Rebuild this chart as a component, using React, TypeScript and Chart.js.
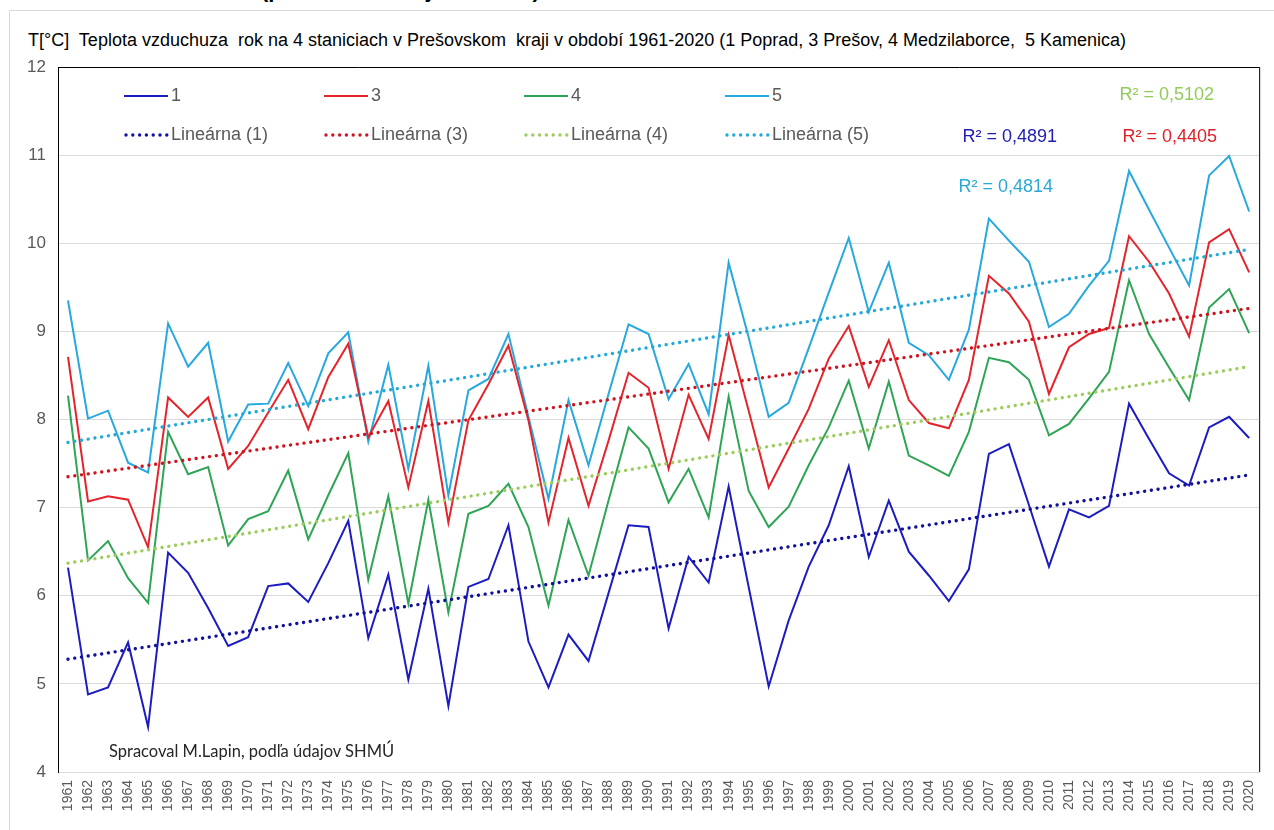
import React, { useEffect, useRef } from "react";
import { Chart, registerables } from "chart.js";

Chart.register(...registerables);

const years: string[] = [
  "1961", "1962", "1963", "1964", "1965", "1966", "1967", "1968", "1969", "1970",
  "1971", "1972", "1973", "1974", "1975", "1976", "1977", "1978", "1979", "1980",
  "1981", "1982", "1983", "1984", "1985", "1986", "1987", "1988", "1989", "1990",
  "1991", "1992", "1993", "1994", "1995", "1996", "1997", "1998", "1999", "2000",
  "2001", "2002", "2003", "2004", "2005", "2006", "2007", "2008", "2009", "2010",
  "2011", "2012", "2013", "2014", "2015", "2016", "2017", "2018", "2019", "2020",
];

// 1 Poprad
const poprad: number[] = [
  6.32, 4.88, 4.96, 5.47, 4.51, 6.49, 6.26, 5.86, 5.43, 5.53,
  6.11, 6.14, 5.93, 6.37, 6.85, 5.52, 6.24, 5.05, 6.08, 4.75,
  6.10, 6.19, 6.80, 5.48, 4.96, 5.56, 5.26, 6.03, 6.80, 6.78,
  5.63, 6.44, 6.15, 7.24, 6.10, 4.97, 5.72, 6.33, 6.80, 7.47,
  6.44, 7.08, 6.50, 6.23, 5.94, 6.30, 7.61, 7.72, 7.03, 6.33,
  6.98, 6.89, 7.02, 8.18, 7.78, 7.39, 7.25, 7.91, 8.03, 7.79,
];

// 3 Prešov
const presov: number[] = [
  8.71, 7.07, 7.13, 7.09, 6.55, 8.25, 8.03, 8.25, 7.44, 7.70,
  8.08, 8.45, 7.89, 8.48, 8.86, 7.80, 8.21, 7.23, 8.21, 6.83,
  7.99, 8.40, 8.84, 7.99, 6.83, 7.79, 7.02, 7.76, 8.53, 8.36,
  7.44, 8.28, 7.78, 8.96, 8.10, 7.23, 7.67, 8.12, 8.69, 9.06,
  8.37, 8.90, 8.22, 7.96, 7.90, 8.45, 9.63, 9.43, 9.11, 8.29,
  8.82, 8.97, 9.04, 10.08, 9.79, 9.43, 8.94, 10.01, 10.16, 9.67,
];

// 4 Medzilaborce
const medzilaborce: number[] = [
  8.27, 6.40, 6.62, 6.20, 5.92, 7.86, 7.38, 7.46, 6.57, 6.87,
  6.96, 7.42, 6.64, 7.14, 7.62, 6.18, 7.13, 5.91, 7.09, 5.81,
  6.93, 7.02, 7.27, 6.78, 5.89, 6.86, 6.23, 7.08, 7.91, 7.67,
  7.06, 7.44, 6.89, 8.26, 7.19, 6.78, 7.01, 7.48, 7.91, 8.44,
  7.67, 8.43, 7.59, 7.48, 7.36, 7.86, 8.70, 8.65, 8.45, 7.82,
  7.95, 8.24, 8.54, 9.58, 8.97, 8.59, 8.22, 9.27, 9.48, 8.98,
];

// 5 Kamenica
const kamenica: number[] = [
  9.35, 8.01, 8.10, 7.51, 7.40, 9.09, 8.60, 8.87, 7.75, 8.17,
  8.18, 8.64, 8.15, 8.75, 8.99, 7.75, 8.62, 7.44, 8.61, 7.14,
  8.33, 8.46, 8.97, 8.03, 7.10, 8.22, 7.48, 8.29, 9.08, 8.97,
  8.23, 8.63, 8.06, 9.78, 8.93, 8.03, 8.19, 8.81, 9.44, 10.06,
  9.22, 9.78, 8.87, 8.73, 8.45, 9.02, 10.28, 10.03, 9.79, 9.05,
  9.20, 9.52, 9.80, 10.82, 10.38, 9.95, 9.52, 10.77, 10.99, 10.36,
];

// linear trend end values (1961, 2020) for series 1, 3, 4, 5
const trendStart: number[] = [5.28, 7.35, 6.37, 7.74];
const trendEnd: number[] = [7.37, 9.26, 8.60, 9.93];

const seriesNames: string[] = ["1", "3", "4", "5"];
const trendNames: string[] = ["Lineárna (1)", "Lineárna (3)", "Lineárna (4)", "Lineárna (5)"];
const r2Labels: string[] = ["R² = 0,4891", "R² = 0,4405", "R² = 0,5102", "R² = 0,4814"];

const yTicks: number[] = [4, 5, 6, 7, 8, 9, 10, 11, 12];

const lineColors = ["#1c1cc2", "#e5232b", "#2ea455", "#27a8de"];
const trendColors = ["#10109c", "#d0141f", "#9ccc5c", "#22a9d8"];

const FONT = "'Liberation Sans', Arial, sans-serif";

const decorPlugin = {
  id: "decor",
  afterDraw(chart: any) {
    const ctx = chart.ctx as CanvasRenderingContext2D;
    const a = chart.chartArea;
    ctx.save();
    // plot frame (top, right)
    ctx.strokeStyle = "#000";
    ctx.lineWidth = 1;
    ctx.beginPath();
    ctx.moveTo(a.left, a.top + 0.5);
    ctx.lineTo(a.right + 0.5, a.top + 0.5);
    ctx.lineTo(a.right + 0.5, a.bottom);
    ctx.stroke();

    // legend
    const colX = [124, 324, 524, 725];
    const rowY = [96, 135];
    ctx.font = `18px ${FONT}`;
    ctx.textBaseline = "middle";
    ctx.textAlign = "left";
    for (let i = 0; i < 4; i++) {
      const x = colX[i];
      ctx.strokeStyle = lineColors[i];
      ctx.lineWidth = 2;
      ctx.beginPath();
      ctx.moveTo(x, rowY[0]);
      ctx.lineTo(x + 44, rowY[0]);
      ctx.stroke();
      ctx.fillStyle = "#595959";
      ctx.fillText(seriesNames[i], x + 47, rowY[0]);

      ctx.fillStyle = trendColors[i];
      for (let k = 0; k < 7; k++) {
        ctx.beginPath();
        ctx.arc(x + 2 + k * 6.8, rowY[1], 1.7, 0, Math.PI * 2);
        ctx.fill();
      }
      ctx.fillStyle = "#595959";
      ctx.fillText(trendNames[i], x + 47, rowY[1]);
    }

    // R² labels
    ctx.textAlign = "right";
    const r2Pos = [
      [1057, 137],
      [1217, 137],
      [1214, 95],
      [1053, 187],
    ];
    const r2Colors = ["#2020b4", "#e0202a", "#92cc58", "#2aa8d8"];
    for (let i = 0; i < 4; i++) {
      ctx.fillStyle = r2Colors[i];
      ctx.fillText(r2Labels[i], r2Pos[i][0], r2Pos[i][1]);
    }
    ctx.restore();
  },
};

export default function App() {
  const ref = useRef<HTMLCanvasElement | null>(null);

  useEffect(() => {
    if (!ref.current) return;
    const series = [poprad, presov, medzilaborce, kamenica];
    const last = years.length - 1;
    const datasets: any[] = [];
    series.forEach((s, i) => {
      datasets.push({
        label: seriesNames[i],
        data: s,
        borderColor: lineColors[i],
        backgroundColor: lineColors[i],
        borderWidth: 2,
        pointRadius: 0,
        tension: 0,
        order: 2,
      });
    });
    series.forEach((_, i) => {
      datasets.push({
        label: trendNames[i],
        data: years.map((_, j) => (j === 0 ? trendStart[i] : j === last ? trendEnd[i] : null)),
        borderColor: trendColors[i],
        borderWidth: 3.4,
        borderDash: [0.01, 6.8],
        borderCapStyle: "round",
        pointRadius: 0,
        spanGaps: true,
        order: 1,
      });
    });

    const chart = new Chart(ref.current, {
      type: "line",
      data: { labels: years, datasets },
      options: {
        animation: false,
        responsive: false,
        devicePixelRatio: 1,
        events: [],
        layout: { padding: { top: 67, right: 6, left: 0, bottom: 0 } },
        plugins: {
          legend: { display: false },
          title: { display: false },
          tooltip: { enabled: false },
        },
        scales: {
          x: {
            type: "category",
            offset: true,
            afterFit: (scale: any) => {
              scale.height = 58;
            },
            grid: { display: false, drawTicks: false },
            border: { display: true, color: "#d9d9d9", width: 1 },
            ticks: {
              autoSkip: false,
              maxRotation: 90,
              minRotation: 90,
              padding: 8,
              color: "#595959",
              font: { family: FONT, size: 14 },
            },
          },
          y: {
            min: 4,
            max: 12,
            afterFit: (scale: any) => {
              scale.width = 58;
            },
            afterBuildTicks: (scale: any) => {
              scale.ticks = yTicks.map((v) => ({ value: v }));
            },
            grid: { color: "#d9d9d9", lineWidth: 1, drawTicks: false },
            border: { display: true, color: "#000", width: 1 },
            ticks: {
              padding: 12,
              color: "#595959",
              font: { family: FONT, size: 17 },
            },
          },
        },
      },
      plugins: [decorPlugin],
    });
    return () => chart.destroy();
  }, []);

  return (
    <div
      style={{
        position: "fixed",
        left: 0,
        top: 0,
        width: 1274,
        height: 830,
        background: "#fff",
        overflow: "hidden",
      }}
    >
      <div
        style={{
          position: "absolute",
          left: 9,
          top: 10,
          width: 1300,
          height: 900,
          borderLeft: "1px solid #d9d9d9",
          borderTop: "1px solid #d9d9d9",
        }}
      />
      <div
        style={{
          position: "absolute",
          left: 261,
          top: -21,
          font: `bold 22px ${FONT}`,
          lineHeight: "22px",
          color: "#000",
          whiteSpace: "pre",
        }}
      >
        (priemer roka a jeho trend)
      </div>
      <div
        style={{
          position: "absolute",
          left: 28,
          top: 30,
          font: `18px ${FONT}`,
          lineHeight: "20px",
          color: "#000",
          whiteSpace: "pre",
        }}
      >
        {"T[°C]  Teplota vzduchuza  rok na 4 staniciach v Prešovskom  kraji v období 1961-2020 (1 Poprad, 3 Prešov, 4 Medzilaborce,  5 Kamenica)"}
      </div>
      <canvas
        ref={ref}
        width={1274}
        height={830}
        style={{ position: "absolute", left: 0, top: 0, width: 1274, height: 830 }}
      />
      <div
        style={{
          position: "absolute",
          left: 109,
          top: 741,
          font: "16.5px Lato, 'Open Sans', sans-serif",
          lineHeight: "20px",
          color: "#262626",
          whiteSpace: "pre",
        }}
      >
        Spracoval M.Lapin, podľa údajov SHMÚ
      </div>
    </div>
  );
}
